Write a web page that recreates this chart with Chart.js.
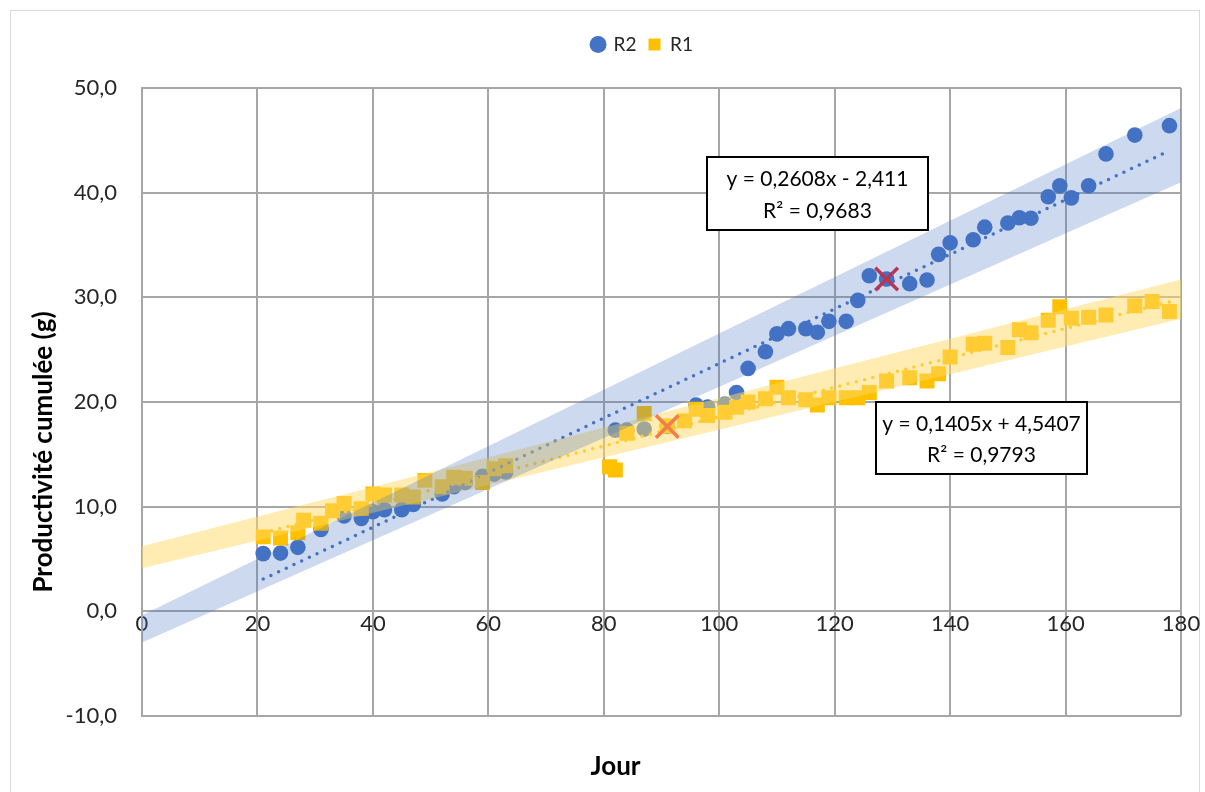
<!DOCTYPE html>
<html>
<head>
<meta charset="utf-8">
<script src="https://cdn.jsdelivr.net/npm/chart.js@4.4.1/dist/chart.umd.min.js"></script>
<style>
  html, body { margin: 0; padding: 0; background: #fff; }
  #wrap { position: relative; width: 1205px; height: 792px; }
</style>
</head>
<body>
<div id="wrap"><canvas id="prod-chart" width="1205" height="792"></canvas></div>
<script>
// Cumulative productivity (g) per day for the two runs
const dayR2 = [21, 24, 27, 31, 35, 38, 40, 42, 45, 47, 52, 54, 56, 59, 61, 63, 82, 84, 87, 91,
  96, 98, 101, 103, 105, 108, 110, 112, 115, 117, 119, 122, 124, 126, 129, 133, 136, 138, 140, 144,
  146, 150, 152, 154, 157, 159, 161, 164, 167, 172, 178];
const valR2 = [5.5, 5.55, 6.1, 7.8, 9.1, 8.85, 9.5, 9.7, 9.7, 10.2, 11.2, 11.9, 12.3, 12.9, 13.1, 13.3, 17.3, 17.3, 17.4, 17.65,
  19.7, 19.5, 19.8, 20.9, 23.2, 24.8, 26.5, 27.0, 27.0, 26.65, 27.7, 27.7, 29.7, 32.05, 31.75, 31.3, 31.65, 34.1, 35.2, 35.5,
  36.7, 37.1, 37.6, 37.55, 39.6, 40.65, 39.5, 40.65, 43.7, 45.5, 46.4];

const dayR1 = [21, 24, 27, 28, 31, 33, 35, 38, 40, 42, 45, 47, 49, 52, 54, 56, 59, 61, 63, 81,
  82, 84, 87, 91, 94, 96, 98, 101, 103, 105, 108, 110, 112, 115, 117, 119, 122, 124, 126, 129,
  133, 136, 138, 140, 144, 146, 150, 152, 154, 157, 159, 161, 164, 167, 172, 175, 178];
const valR1 = [7.1, 7.0, 7.5, 8.7, 8.4, 9.6, 10.3, 9.8, 11.2, 11.1, 11.1, 10.9, 12.5, 11.9, 12.8, 12.7, 12.3, 13.6, 13.9, 13.8,
  13.5, 17.0, 18.9, 17.7, 18.2, 19.3, 18.7, 19.0, 19.5, 20.0, 20.3, 21.4, 20.4, 20.2, 19.7, 20.4, 20.4, 20.4, 20.9, 22.0,
  22.3, 22.0, 22.7, 24.3, 25.5, 25.6, 25.2, 26.9, 26.6, 27.8, 29.1, 28.0, 28.1, 28.3, 29.2, 29.6, 28.65];

// linear fits shown in the boxes
const fitR2 = { slope: 0.2608, intercept: -2.411, r2: 0.9683 };
const fitR1 = { slope: 0.1405, intercept: 4.5407, r2: 0.9793 };

// points flagged with a cross
const flagDays = [129, 91];
const flagVals = [31.75, 17.65];

// shaded envelope around each fit, widening with time (polygon corners)
const bandR2Days = [0, 180, 180, 0];
const bandR2Vals = [-0.4, 48.1, 41.0, -3.0];
const bandR1Days = [0, 180, 180, 0];
const bandR1Vals = [6.2, 31.7, 27.95, 4.1];

const xTicks = [0, 20, 40, 60, 80, 100, 120, 140, 160, 180];
const yTicks = [-10, 0, 10, 20, 30, 40, 50];

const BLUE = '#4472C4';
const GOLD = '#FFC000';
const GRID = '#A6A6A6';
const FONT = 'Lato, "Open Sans", sans-serif';

const comma = (v) => String(v).replace('.', ',');
const pts = (xs, ys) => xs.map((x, i) => ({ x, y: ys[i] }));
const trend = (fit, days) => [days[0], days[days.length - 1]].map((x) => ({ x, y: fit.slope * x + fit.intercept }));
const eqLines = (fit) => [
  'y = ' + comma(fit.slope) + 'x ' + (fit.intercept < 0 ? '- ' : '+ ') + comma(Math.abs(fit.intercept)),
  'R² = ' + comma(fit.r2),
];

// frame, y title, regression boxes; also nudges the legend over the plot
const decorations = {
  id: 'decorations',
  afterLayout(chart, args, opts) {
    const lg = chart.legend;
    const ca = chart.chartArea;
    const dx = (ca.left + ca.right) / 2 + opts.legendOffset - (lg.left + lg.right) / 2;
    lg.left += dx;
    lg.right += dx;
  },
  beforeDraw(chart) {
    const ctx = chart.ctx;
    ctx.save();
    ctx.strokeStyle = '#D9D9D9';
    ctx.lineWidth = 1;
    ctx.strokeRect(10.5, 10.5, 1189, 800);
    ctx.restore();
  },
  afterDatasetsDraw(chart, args, opts) {
    const ctx = chart.ctx;
    ctx.save();
    opts.boxes.forEach((b) => {
      ctx.fillStyle = '#fff';
      ctx.fillRect(b.left, b.top, b.width, b.height);
      ctx.strokeStyle = '#000';
      ctx.lineWidth = 2;
      ctx.strokeRect(b.left, b.top, b.width, b.height);
      ctx.fillStyle = '#000';
      ctx.font = '21px ' + FONT;
      ctx.textAlign = 'center';
      ctx.textBaseline = 'middle';
      ctx.fillText(b.lines[0], b.left + b.width / 2, b.top + b.height * 0.31);
      ctx.fillText(b.lines[1], b.left + b.width / 2, b.top + b.height * 0.74);
    });
    ctx.restore();
  },
  afterDraw(chart, args, opts) {
    const ctx = chart.ctx;
    ctx.save();
    ctx.translate(opts.yTitle.x, opts.yTitle.y);
    ctx.rotate(-Math.PI / 2);
    ctx.fillStyle = '#000';
    ctx.font = 'bold 26px ' + FONT;
    ctx.textAlign = 'center';
    ctx.textBaseline = 'middle';
    ctx.fillText(opts.yTitle.text, 0, 0);
    ctx.restore();
  },
};

const tickFont = { family: FONT, size: 22 };

new Chart(document.getElementById('prod-chart'), {
  type: 'scatter',
  data: {
    datasets: [
      { label: 'R2', data: pts(dayR2, valR2), pointStyle: 'circle', pointRadius: 7.8,
        backgroundColor: BLUE, borderColor: BLUE, borderWidth: 0, order: 10 },
      { label: 'R1', data: pts(dayR1, valR1), pointStyle: 'rect', pointRadius: 10.6,
        backgroundColor: GOLD, borderColor: GOLD, borderWidth: 0, order: 9 },
      { label: '', type: 'line', data: trend(fitR2, dayR2), borderColor: BLUE, borderWidth: 3.5,
        borderDash: [0, 8.5], borderCapStyle: 'round', pointRadius: 0, fill: false, order: 8 },
      { label: '', type: 'line', data: trend(fitR1, dayR1), borderColor: GOLD, borderWidth: 3.5,
        borderDash: [0, 8.5], borderCapStyle: 'round', pointRadius: 0, fill: false, order: 7 },
      { label: '', data: pts(flagDays, flagVals), pointStyle: 'crossRot', pointRadius: 16,
        borderColor: '#E0202E', backgroundColor: '#E0202E', borderWidth: 3.5, order: 6 },
      { label: '', type: 'line', data: pts(bandR1Days, bandR1Vals), fill: 'shape',
        backgroundColor: 'rgba(255,217,102,0.5)', borderColor: 'rgba(0,0,0,0)', borderWidth: 0,
        pointRadius: 0, tension: 0, clip: 0, order: 5 },
      { label: '', type: 'line', data: pts(bandR2Days, bandR2Vals), fill: 'shape',
        backgroundColor: 'rgba(68,114,196,0.27)', borderColor: 'rgba(0,0,0,0)', borderWidth: 0,
        pointRadius: 0, tension: 0, clip: 0, order: 4 },
    ],
  },
  options: {
    responsive: false,
    animation: false,
    layout: { padding: { left: 50, right: 24, top: 23, bottom: 0 } },
    scales: {
      x: {
        type: 'linear', min: xTicks[0], max: xTicks[xTicks.length - 1],
        position: { y: 0 },
        ticks: { stepSize: 20, padding: 0, color: '#262626', font: tickFont, maxRotation: 0, autoSkip: false },
        grid: { color: GRID, lineWidth: 2, drawTicks: false },
        border: { color: GRID, width: 2 },
      },
      y: {
        type: 'linear', min: yTicks[0], max: yTicks[yTicks.length - 1],
        ticks: { stepSize: 10, padding: 25, color: '#262626', font: tickFont,
          callback: (v) => comma(v.toFixed(1)) },
        grid: { color: GRID, lineWidth: 2, drawTicks: false },
        border: { color: GRID, width: 2 },
        afterFit: (s) => { s.width = 92; },
      },
      xTop: {
        type: 'linear', position: 'top', min: 0, max: 1,
        ticks: { display: false }, grid: { display: false }, border: { display: false },
        afterFit: (s) => { s.height = 24; },
      },
    },
    plugins: {
      tooltip: { enabled: false },
      legend: {
        position: 'top',
        labels: {
          usePointStyle: true, boxWidth: 12, boxHeight: 12, padding: 12,
          color: '#262626', font: { family: FONT, size: 19 },
          filter: (item) => item.text !== '',
          sort: (a, b) => a.datasetIndex - b.datasetIndex,
        },
      },
      title: {
        display: true, position: 'bottom', text: 'Jour', color: '#000',
        font: { family: FONT, size: 26, weight: 'bold' },
        padding: { top: 35, bottom: 10 },
      },
      decorations: {
        legendOffset: -19,
        yTitle: { text: 'Productivité cumulée (g)', x: 44, y: 452 },
        boxes: [
          { lines: eqLines(fitR2), left: 707, top: 157, width: 221, height: 73 },
          { lines: eqLines(fitR1), left: 876, top: 402, width: 211, height: 72 },
        ],
      },
    },
  },
  plugins: [decorations],
});
</script>
</body>
</html>
